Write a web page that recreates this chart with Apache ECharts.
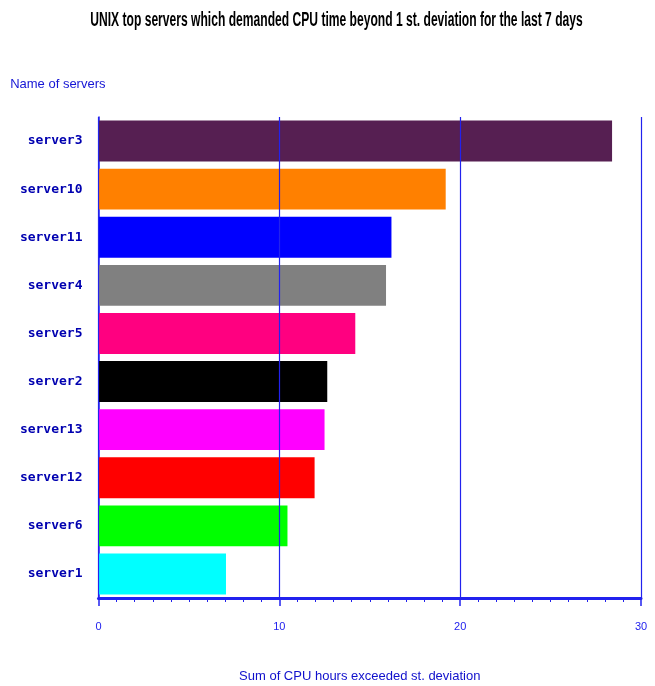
<!DOCTYPE html>
<html>
<head>
<meta charset="utf-8">
<script src="https://cdn.jsdelivr.net/npm/echarts@6/dist/echarts.min.js"></script>
<style>
html,body{margin:0;padding:0;background:#fff;}
#chart{width:655px;height:686px;}
</style>
</head>
<body>
<div id="chart"></div>
<script>
var titleText = 'UNIX top servers which demanded CPU time beyond 1 st. deviation for the last 7 days';
var yAxisTitle = 'Name of servers';
var xAxisTitle = 'Sum of CPU hours exceeded st. deviation';
var servers = ['server3','server10','server11','server4','server5','server2','server13','server12','server6','server1'];
var cpuHours = [28.4, 19.2, 16.2, 15.9, 14.2, 12.65, 12.5, 11.95, 10.45, 7.05];
var barColors = ['#561f52','#ff8000','#0000ff','#808080','#ff0080','#000000','#ff00ff','#ff0000','#00ff00','#00ffff'];
var xTicks = [0, 10, 20, 30];

var blue = '#2222ee';
var sans = '"Liberation Sans", Arial, sans-serif';

var chart = echarts.init(document.getElementById('chart'), null, {renderer: 'canvas'});
chart.setOption({
  backgroundColor: '#ffffff',
  animation: false,
  graphic: [{
    type: 'text',
    x: 336.5,
    y: 20.5,
    scaleX: 0.62,
    silent: true,
    style: {
      text: titleText,
      font: 'bold 19.5px "Liberation Sans", Arial, sans-serif',
      fill: '#000000',
      align: 'center',
      verticalAlign: 'middle'
    }
  }],
  grid: {left: 98.5, right: 14, top: 117, bottom: 88, containLabel: false, outerBoundsMode: 'none'},
  xAxis: {
    type: 'value',
    min: xTicks[0],
    max: xTicks[xTicks.length - 1],
    interval: 10,
    z: 3,
    name: xAxisTitle,
    nameLocation: 'middle',
    nameGap: 78,
    nameTextStyle: {fontFamily: sans, fontSize: 13, color: '#1010cc', verticalAlign: 'middle', padding: [0, 20, 0, 0]},
    axisLine: {show: true, lineStyle: {color: blue, width: 3}},
    axisTick: {show: true, length: 8, lineStyle: {color: blue, width: 1.5}},
    minorTick: {show: true, splitNumber: 10, length: 4, lineStyle: {color: blue, width: 1}},
    axisLabel: {margin: 23, fontFamily: sans, fontSize: 11, color: blue,
      formatter: function (v) { return xTicks.indexOf(v) >= 0 ? String(v) : ''; }},
    splitLine: {show: true, lineStyle: {color: blue, width: 1.2}}
  },
  yAxis: {
    type: 'category',
    data: servers,
    inverse: true,
    name: yAxisTitle,
    nameLocation: 'start',
    nameGap: 33,
    nameTextStyle: {fontFamily: sans, fontSize: 13, color: '#1515d5', align: 'right', verticalAlign: 'middle', padding: [0, -7, 0, 0]},
    axisLine: {show: true, lineStyle: {color: blue, width: 1.5}},
    axisTick: {show: false},
    axisLabel: {margin: 16, fontFamily: '"DejaVu Sans Mono", monospace', fontWeight: 'bold', fontSize: 13, color: '#0000b0'},
    splitLine: {show: false}
  },
  series: [{
    type: 'bar',
    barCategoryGap: '15%',
    data: cpuHours.map(function (v, i) {
      return {value: v, itemStyle: {color: barColors[i]}};
    })
  }]
});
</script>
</body>
</html>
